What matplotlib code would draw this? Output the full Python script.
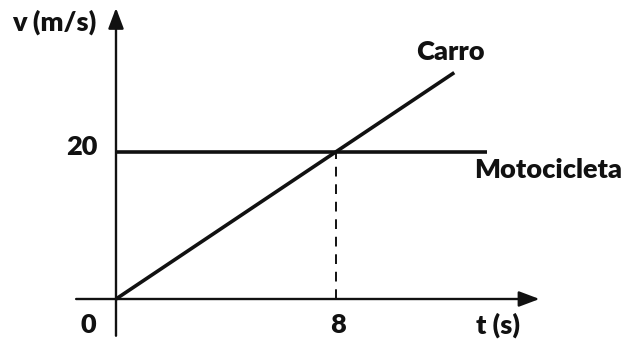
import matplotlib
matplotlib.use("Agg")
import matplotlib.pyplot as plt

# Data
t_carro = [0, 12.3]
v_carro = [0, 30.8]
t_moto = [0, 13.5]
v_moto = [20, 20]
t_cross = 8
v_cross = 20
y_tick_label = "20"
x_tick_labels = ["0", "8"]
x_tick_values = [0, 8]
label_carro = "Carro"
label_moto = "Motocicleta"
ylabel = "v (m/s)"
xlabel = "t (s)"

plt.rcParams['font.family'] = ['Lato', 'DejaVu Sans']

fig = plt.figure(figsize=(6.28, 3.42), dpi=100)
ax = fig.add_axes([0, 0, 1, 1])
ax.set_xlim(-4.218, 18.618)
ax.set_ylim(-5.85, 40.68)
ax.axis('off')

ink = '#111111'

# axes with arrows
arrow_style = '-|>,head_length=1.25,head_width=0.47'
ax.annotate('', xy=(15.4, 0), xytext=(-1.45, 0),
            arrowprops=dict(arrowstyle=arrow_style,
                            color=ink, lw=1.7, shrinkA=0, shrinkB=0))
ax.annotate('', xy=(0, 39.6), xytext=(0, -5.0),
            arrowprops=dict(arrowstyle=arrow_style,
                            color=ink, lw=1.7, shrinkA=0, shrinkB=0))

# series
ax.plot(t_carro, v_carro, color=ink, lw=2.6, solid_capstyle='butt')
ax.plot(t_moto, v_moto, color=ink, lw=2.6, solid_capstyle='butt')
ax.plot([t_cross, t_cross], [0, v_cross], color=ink, lw=1.4,
        linestyle=(0, (5, 4)))

fs = 19.5
wt = 'heavy'
# labels
ax.text(-2.25, 37.7, ylabel, fontsize=fs, fontweight=wt, color=ink,
        ha='center', va='center')
ax.text(-0.69, v_cross + 0.7, y_tick_label, fontsize=fs, fontweight=wt,
        color=ink, ha='right', va='center')
ax.text(-1.02, -3.54, x_tick_labels[0], fontsize=fs, fontweight=wt,
        color=ink, ha='center', va='center')
ax.text(x_tick_values[1] + 0.07, -3.54, x_tick_labels[1], fontsize=fs,
        fontweight=wt, color=ink, ha='center', va='center')
ax.text(13.9, -3.54, xlabel, fontsize=fs, fontweight=wt, color=ink,
        ha='center', va='center')
ax.text(12.15, 33.6, label_carro, fontsize=fs, fontweight=wt, color=ink,
        ha='center', va='center')
ax.text(18.4, 17.55, label_moto, fontsize=fs, fontweight=wt, color=ink,
        ha='right', va='center')

fig.savefig('out.png', dpi=100)
